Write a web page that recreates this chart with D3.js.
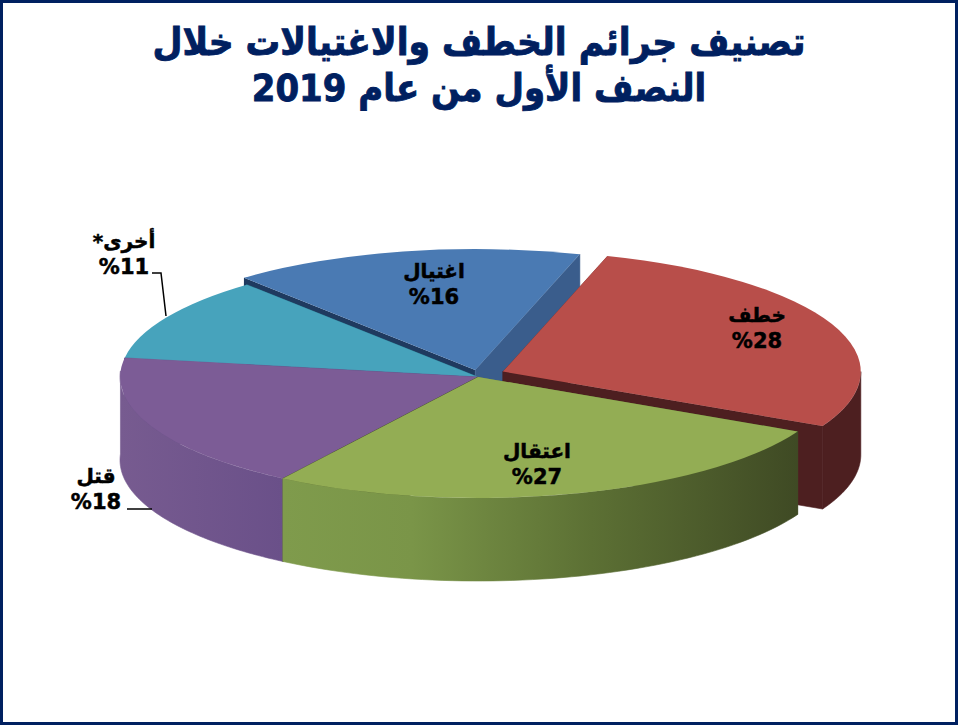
<!DOCTYPE html>
<html>
<head>
<meta charset="utf-8">
<script src="https://cdn.jsdelivr.net/npm/d3@7"></script>
<style>
    html, body { margin: 0; padding: 0; background: #fff; }
    svg { display: block; }
    text { font-family: "DejaVu Sans", sans-serif; font-weight: bold; direction: rtl; text-anchor: middle; }
</style>
</head>
<body>
<div id="chart"></div>
<script>
// chart values, clockwise from the top right
var names = ["خطف", "اعتقال", "قتل", "أخرى*", "اغتيال"];
var values = [27.7, 26.75, 18.35, 11.3, 15.9];
var titleLines = ["تصنيف جرائم الخطف والاغتيالات خلال", "النصف الأول من عام 2019"];

var topColors = ["#b84e4a", "#93ad54", "#7c5c96", "#47a3bc", "#4a7ab3"];
var wallColors = ["#4d1f20", "url(#greenWall)", "url(#purpleWall)", "#2f7f94", "#1f3a5f"];
var endCutColors = ["#4d1f20", "#3f4a24", "#6a5089", "#2f7f94", "#3a5d8c"];
var explode = [27, 0, 0, 0, 14];
var labelPos = [[757, 315], [537, 451], [96, 476], [124, 241], [434, 271]];
var drawOrder = [4, 0, 3, 2, 1];

var width = 958, height = 725;
var cx = 478, cy = 377, rx = 358, ry = 121, depth = 83;
var startAngle = 17 * Math.PI / 180;

var svg = d3.select("#chart").append("svg")
    .attr("width", width)
    .attr("height", height);

// frame
svg.append("rect")
    .attr("x", 1.5)
    .attr("y", 1.5)
    .attr("width", width - 3)
    .attr("height", height - 3)
    .attr("fill", "#fff")
    .attr("stroke", "#002060")
    .attr("stroke-width", 3);

var defs = svg.append("defs");

function addGradient(id, x1, x2, stops) {
    var g = defs.append("linearGradient")
        .attr("id", id)
        .attr("gradientUnits", "userSpaceOnUse")
        .attr("x1", x1).attr("x2", x2)
        .attr("y1", 0).attr("y2", 0);
    stops.forEach(function (s) {
        g.append("stop").attr("offset", s[0]).attr("stop-color", s[1]);
    });
}
addGradient("greenWall", 283, 797, [[0, "#7f9b4c"], [0.25, "#7a9548"], [0.6, "#5c7034"], [1, "#3f4a24"]]);
addGradient("purpleWall", 120, 283, [[0, "#775b90"], [1, "#6a5089"]]);

var pie = d3.pie()
    .sort(null)
    .startAngle(startAngle)
    .endAngle(startAngle + 2 * Math.PI);
var slices = pie(values);

var arc = d3.arc().innerRadius(0).outerRadius(1);
var line = d3.line();

function offsetOf(i) {
    var mid = (slices[i].startAngle + slices[i].endAngle) / 2;
    return [cx + explode[i] * Math.sin(mid), cy - explode[i] * Math.cos(mid) * ry / rx * 1.5];
}

function rim(c, a) {
    return [c[0] + rx * Math.sin(a), c[1] - ry * Math.cos(a)];
}

function cutWall(c, a) {
    var p = rim(c, a);
    return line([c, p, [p[0], p[1] + depth], [c[0], c[1] + depth]]) + "Z";
}

var area = d3.area()
    .x(function (d) { return d[0]; })
    .y0(function (d) { return d[1]; })
    .y1(function (d) { return d[1] + depth; });

drawOrder.forEach(function (i) {
    var s = slices[i];
    var c = offsetOf(i);
    var g = svg.append("g").attr("class", "slice");

    // cut faces
    g.append("path").attr("d", cutWall(c, s.startAngle)).attr("fill", wallColors[i]);
    g.append("path")
        .attr("d", cutWall(c, s.endAngle))
        .attr("fill", endCutColors[i])
        .attr("stroke", endCutColors[i])
        .attr("stroke-width", 0.6);

    // outer wall, only the part that faces the viewer
    var a0 = Math.max(s.startAngle, Math.PI / 2);
    var a1 = Math.min(s.endAngle, 3 * Math.PI / 2 + 0.05);
    if (a1 > a0) {
        var pts = d3.range(0, 61).map(function (k) {
            return rim(c, a0 + (a1 - a0) * k / 60);
        });
        g.append("path")
            .attr("d", area(pts))
            .attr("fill", wallColors[i])
            .attr("stroke", wallColors[i])
            .attr("stroke-width", 0.6);
    }

    // top face
    g.append("path")
        .attr("d", arc(s))
        .attr("transform", "translate(" + c[0] + "," + c[1] + ") scale(" + rx + "," + ry + ")")
        .attr("fill", topColors[i]);
});

// leader lines
svg.append("path")
    .attr("d", line([[152, 273], [161, 273], [166, 316]]))
    .attr("fill", "none").attr("stroke", "#000").attr("stroke-width", 1.5);
svg.append("path")
    .attr("d", line([[127, 509], [152, 509]]))
    .attr("fill", "none").attr("stroke", "#000").attr("stroke-width", 1.5);

// labels
names.forEach(function (name, i) {
    var p = labelPos[i];
    svg.append("text")
        .attr("x", p[0]).attr("y", p[1] + 7)
        .attr("font-size", 20)
        .attr("stroke", "#000").attr("stroke-width", 0.5)
        .text(name);
    svg.append("text")
        .attr("x", p[0]).attr("y", p[1] + 33)
        .attr("font-size", 21)
        .attr("stroke", "#000").attr("stroke-width", 0.5)
        .text("%" + Math.round(values[i]));
});

// title, squeezed sideways to the reference's narrower face
titleLines.forEach(function (t, i) {
    svg.append("text")
        .attr("transform", "translate(479," + (55 + i * 46) + ") scale(" + (i ? 0.895 : 0.91) + ",1)")
        .attr("font-size", 38)
        .attr("fill", "#002060")
        .attr("stroke", "#002060").attr("stroke-width", 0.9)
        .text(t);
});
</script>
</body>
</html>
